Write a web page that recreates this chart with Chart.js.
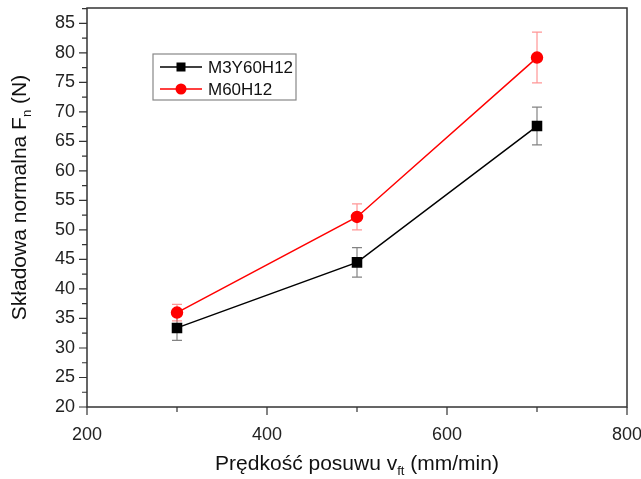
<!DOCTYPE html>
<html>
<head>
<meta charset="utf-8">
<script src="https://cdn.jsdelivr.net/npm/chart.js@4"></script>
<style>
  html, body { margin: 0; padding: 0; background: #fff; }
  #wrap { width: 641px; height: 479px; }
</style>
</head>
<body>
<div id="wrap"><canvas id="chart" width="641" height="479"></canvas></div>
<script>
// --- DATA ---
const feedRates = [300, 500, 700];
const seriesNames = ["M3Y60H12", "M60H12"];
const m3y60h12 = [33.4, 44.5, 67.6];
const m3y60h12Err = [2.1, 2.5, 3.2];
const m60h12 = [36.0, 52.2, 79.2];
const m60h12Err = [1.4, 2.2, 4.3];
const xMajorTicks = [200, 400, 600, 800];
const xMinorTicks = [300, 500, 700];
const yMajorTicks = [20, 25, 30, 35, 40, 45, 50, 55, 60, 65, 70, 75, 80, 85];

const FONT = "Arial, 'Liberation Sans', sans-serif";

function toPoints(ys) {
    return feedRates.map((x, i) => ({ x: x, y: ys[i] }));
}

// --- ERROR BARS ---
const errorBars = {
    id: "errorBars",
    beforeDatasetsDraw(chart) {
        const ctx = chart.ctx;
        const xs = chart.scales.x, ys = chart.scales.y;
        chart.data.datasets.forEach(ds => {
            ctx.save();
            ctx.strokeStyle = ds.errColor;
            ctx.lineWidth = 1.2;
            ds.data.forEach((p, i) => {
                const px = xs.getPixelForValue(p.x);
                const top = ys.getPixelForValue(p.y + ds.err[i]);
                const bot = ys.getPixelForValue(p.y - ds.err[i]);
                ctx.beginPath();
                ctx.moveTo(px, top); ctx.lineTo(px, bot);
                ctx.moveTo(px - 5, top); ctx.lineTo(px + 5, top);
                ctx.moveTo(px - 5, bot); ctx.lineTo(px + 5, bot);
                ctx.stroke();
            });
            ctx.restore();
        });
    }
};

// --- FRAME, TICKS, TITLES, LEGEND ---
const frame = {
    id: "frame",
    afterDraw(chart) {
        const ctx = chart.ctx;
        const a = chart.chartArea;
        const xs = chart.scales.x, ys = chart.scales.y;
        ctx.save();
        ctx.strokeStyle = "#333";
        ctx.lineWidth = 1.5;
        ctx.strokeRect(a.left, a.top, a.right - a.left, a.bottom - a.top);

        ctx.lineWidth = 1.2;
        ctx.beginPath();
        xMajorTicks.forEach(v => {
            const px = xs.getPixelForValue(v);
            ctx.moveTo(px, a.bottom); ctx.lineTo(px, a.bottom + 8);
        });
        xMinorTicks.forEach(v => {
            const px = xs.getPixelForValue(v);
            ctx.moveTo(px, a.bottom); ctx.lineTo(px, a.bottom + 5);
        });
        yMajorTicks.forEach(v => {
            const py = ys.getPixelForValue(v);
            ctx.moveTo(a.left, py); ctx.lineTo(a.left - 8, py);
            const pm = ys.getPixelForValue(v + 2.5);
            if (pm > a.top) { ctx.moveTo(a.left, pm); ctx.lineTo(a.left - 5, pm); }
        });
        ctx.stroke();

        // x title with subscript
        ctx.fillStyle = "#111";
        ctx.textBaseline = "alphabetic";
        const big = "21px " + FONT, small = "13px " + FONT;
        const xParts = [["Prędkość posuwu v", big, 0], ["ft", small, 5], [" (mm/min)", big, 0]];
        drawParts(ctx, xParts, (a.left + a.right) / 2, 470);

        // y title rotated
        ctx.save();
        ctx.translate(26, (a.top + a.bottom) / 2 - 10);
        ctx.rotate(-Math.PI / 2);
        const yParts = [["Składowa normalna F", big, 0], ["n", small, 5], [" (N)", big, 0]];
        drawParts(ctx, yParts, 0, 0);
        ctx.restore();

        // legend
        const lx = 153, ly = 54, lw = 143, lh = 46;
        ctx.strokeStyle = "#888";
        ctx.lineWidth = 1.2;
        ctx.strokeRect(lx, ly, lw, lh);
        chart.data.datasets.forEach((ds, i) => {
            const ry = ly + 13 + i * 22;
            ctx.strokeStyle = ds.borderColor;
            ctx.lineWidth = 1.5;
            ctx.beginPath();
            ctx.moveTo(lx + 7, ry); ctx.lineTo(lx + 49, ry);
            ctx.stroke();
            ctx.fillStyle = ds.borderColor;
            if (ds.pointStyle === "rect") {
                ctx.fillRect(lx + 28 - 4.5, ry - 4.5, 9, 9);
            } else {
                ctx.beginPath();
                ctx.arc(lx + 28, ry, 5.5, 0, Math.PI * 2);
                ctx.fill();
            }
            ctx.fillStyle = "#111";
            ctx.font = "17px " + FONT;
            ctx.textAlign = "left";
            ctx.textBaseline = "middle";
            ctx.fillText(ds.label, lx + 55, ry + 1);
        });
        ctx.restore();
    }
};

function drawParts(ctx, parts, cx, baseline) {
    let total = 0;
    parts.forEach(p => { ctx.font = p[1]; total += ctx.measureText(p[0]).width; });
    let x = cx - total / 2;
    ctx.textAlign = "left";
    parts.forEach(p => {
        ctx.font = p[1];
        ctx.fillText(p[0], x, baseline + p[2]);
        x += ctx.measureText(p[0]).width;
    });
}

new Chart(document.getElementById("chart"), {
    type: "line",
    data: {
        datasets: [
            {
                label: seriesNames[0],
                data: toPoints(m3y60h12),
                err: m3y60h12Err,
                errColor: "rgba(90,90,90,0.75)",
                borderColor: "#000",
                backgroundColor: "#000",
                borderWidth: 1.5,
                pointStyle: "rect",
                pointRadius: 6.4,
                pointHoverRadius: 6.4,
                tension: 0
            },
            {
                label: seriesNames[1],
                data: toPoints(m60h12),
                err: m60h12Err,
                errColor: "rgba(255,80,80,0.6)",
                borderColor: "#ff0000",
                backgroundColor: "#ff0000",
                borderWidth: 1.5,
                pointStyle: "circle",
                pointRadius: 5.5,
                pointHoverRadius: 5.5,
                tension: 0
            }
        ]
    },
    options: {
        responsive: false,
        animation: false,
        layout: { padding: { top: 8, right: 14, left: 0, bottom: 0 } },
        plugins: { legend: { display: false }, tooltip: { enabled: false } },
        scales: {
            x: {
                type: "linear",
                min: 200, max: 800,
                afterBuildTicks: s => { s.ticks = xMajorTicks.map(v => ({ value: v })); },
                afterFit: s => { s.height = 72; s.paddingLeft = 0; s.paddingRight = 0; },
                grid: { display: false, drawTicks: false },
                border: { display: false },
                ticks: { padding: 17, color: "#222", font: { size: 18, family: FONT } }
            },
            y: {
                type: "linear",
                min: 20, max: 87.6,
                afterBuildTicks: s => { s.ticks = yMajorTicks.map(v => ({ value: v })); },
                afterFit: s => { s.width = 87; s.paddingTop = 0; s.paddingBottom = 0; },
                grid: { display: false, drawTicks: false },
                border: { display: false },
                ticks: { padding: 12, color: "#222", font: { size: 18, family: FONT } }
            }
        }
    },
    plugins: [errorBars, frame]
});
</script>
</body>
</html>
